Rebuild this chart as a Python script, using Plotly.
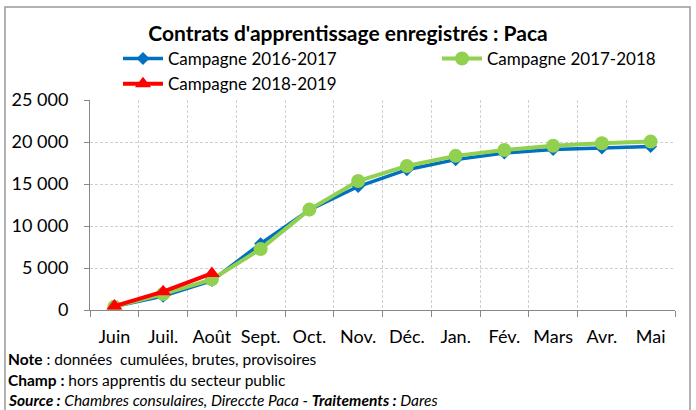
import plotly.graph_objects as go

months = ["Juin", "Juil.", "Août", "Sept.", "Oct.", "Nov.", "Déc.", "Jan.", "Fév.", "Mars", "Avr.", "Mai"]
c2016 = [400, 1650, 3500, 7900, 11900, 14700, 16700, 17900, 18700, 19100, 19300, 19450]
c2017 = [400, 1900, 3650, 7250, 11950, 15350, 17150, 18350, 19050, 19550, 19850, 20050]
c2018 = [470, 2180, 4350]

FONT = "Lato"
fig = go.Figure()
fig.add_trace(go.Scatter(x=months, y=c2016, name="Campagne 2016-2017", mode="lines+markers",
                         line=dict(color="#0070C0", width=3.5), legend="legend",
                         marker=dict(symbol="diamond", size=10, color="#0070C0")))
fig.add_trace(go.Scatter(x=months, y=c2017, name="Campagne 2017-2018", mode="lines+markers",
                         line=dict(color="#92D050", width=4), legend="legend2",
                         marker=dict(symbol="circle", size=14, color="#92D050")))
fig.add_trace(go.Scatter(x=months[:len(c2018)], y=c2018, name="Campagne 2018-2019", mode="lines+markers",
                         line=dict(color="#FF0000", width=4), legend="legend",
                         marker=dict(symbol="triangle-up", size=14, color="#FF0000")))

leg_common = dict(orientation="v", xanchor="left", yanchor="top", font=dict(size=17, family=FONT),
                  tracegroupgap=0, itemwidth=40, bgcolor="rgba(0,0,0,0)", borderwidth=0)

fig.update_layout(
    width=696, height=410,
    margin=dict(l=90, r=21, t=100, b=100),
    paper_bgcolor="white", plot_bgcolor="white",
    font=dict(family=FONT, size=16, color="#000000"),
    separators=", ",
    title=dict(text="<b>Contrats d'apprentissage enregistrés : Paca</b>", x=0.5, xanchor="center",
               y=0.917, yanchor="middle", font=dict(size=21, family=FONT)),
    showlegend=True,
    legend=dict(x=(118 - 90) / 585, y=(310 - 41) / 210, **leg_common),
    legend2=dict(x=(437 - 90) / 585, y=(310 - 41) / 210, **leg_common),
    xaxis=dict(type="category", range=[-0.5, 11.5], tickson="boundaries", ticks="outside",
               ticklen=6, tickcolor="#888888", showline=True, linecolor="#888888",
               showgrid=True, gridcolor="#d0d0d0", griddash="3px,2px", tickangle=0,
               ticklabelstandoff=10, tickfont=dict(size=18), fixedrange=True),
    yaxis=dict(range=[0, 25000], dtick=5000, tickformat=",d", ticks="outside", ticklen=5,
               tickcolor="#888888", showline=True, linecolor="#888888",
               showgrid=True, gridcolor="#d0d0d0", griddash="3px,2px", zeroline=False,
               ticklabelstandoff=12, tickfont=dict(size=18), fixedrange=True),
)

notes = [
    "<b>Note</b> : données  cumulées, brutes, provisoires",
    "<b>Champ :</b> hors apprentis du secteur public",
    "<b><i>Source :</i></b><i> Chambres consulaires, Direccte Paca - </i><b><i>Traitements :</i></b><i> Dares</i>",
]
for i, t in enumerate(notes):
    fig.add_annotation(text=t, xref="paper", yref="paper", x=-84/585, xanchor="left",
                       y=(310 - (359 + 20.5 * i)) / 210, yanchor="middle",
                       showarrow=False, font=dict(size=15.5, family=FONT))

fig.add_shape(type="rect", xref="paper", yref="paper",
              x0=-85/585, x1=(690-90)/585, y0=(310-415)/210, y1=(310-7)/210,
              line=dict(color="#999999", width=1.5), fillcolor="rgba(0,0,0,0)", layer="below")

fig.write_html("out.html", config={"displayModeBar": False},
               post_script="document.body.style.margin='0';document.body.style.overflow='hidden';")
